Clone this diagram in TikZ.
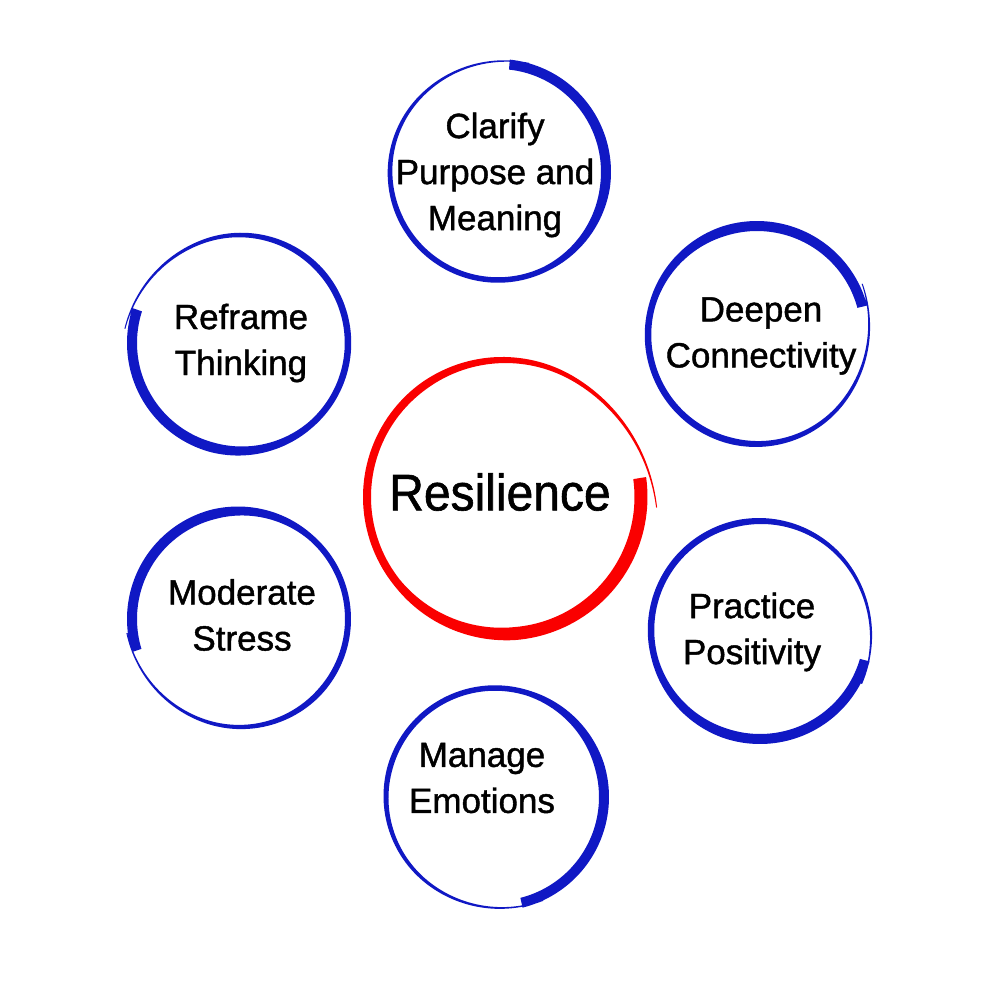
\documentclass[tikz,border=0pt]{standalone}
\usepackage{fontspec}
\setmainfont{Liberation Sans}
\newfontfamily\lblfont[FakeBold=1.2]{Liberation Sans}

\definecolor{ringblue}{RGB}{16,24,196}
\definecolor{ringred}{RGB}{250,0,0}

% brush ring: centre x, centre y, radius, start angle, sweep, start width, body width, tail drift, colour
\newcommand\brushring[9]{%
 \def\brushR{#3}\def\wbeg{#6}\def\wmid{#7}\def\dtail{#8}%
 \fill[#9] plot[domain=0:1,samples=180,variable=\t]
  ({#1+(rr(\t)+bw(\t)/2)*cos(#4+(#5)*\t)},{#2+(rr(\t)+bw(\t)/2)*sin(#4+(#5)*\t)})
  -- plot[domain=1:0,samples=180,variable=\t]
  ({#1+(rr(\t)-bw(\t)/2)*cos(#4+(#5)*\t)},{#2+(rr(\t)-bw(\t)/2)*sin(#4+(#5)*\t)}) -- cycle;
}

\tikzset{
 lbl/.style={font=\lblfont\fontsize{26.25}{34.5}\selectfont, align=center, inner sep=0.75pt},
 biglbl/.style={font=\lblfont\fontsize{36}{40}\selectfont, inner sep=0.75pt}
}

\begin{document}
\begin{tikzpicture}[x=0.75pt,y=0.75pt,yscale=-1,xscale=1,
 declare function={bw(\s)=\wmid+(\wbeg-\wmid)*min(max((0.4-\s)/0.15,0),1)+(1-\wmid)*max(\s-0.65,0)/0.35;
  rr(\s)=\brushR+\dtail*(max(\s-0.83,0)/0.17)*(max(\s-0.83,0)/0.17);}]
%set diagram 1000 x 1000
\fill[white] (0,0) rectangle (1000,1000);

%Shape: Red ring
\brushring{504}{497}{137}{-8}{372}{13}{8}{16}{ringred}
%Shape: Blue rings
\brushring{498}{172}{108}{-84}{370}{10}{5.5}{5}{ringblue}
\brushring{757}{335}{109}{-15}{-371}{10}{6.5}{8}{ringblue}
\brushring{760}{630}{109}{16}{372}{10}{6.5}{6}{ringblue}
\brushring{495}{797}{109}{76}{-371}{10}{5.5}{5}{ringblue}
\brushring{240}{619}{108}{163}{370}{10}{6}{6}{ringblue}
\brushring{240}{343}{108}{198}{-371}{10}{6.5}{8}{ringblue}

% Text Node
\node (resilience) [biglbl] at (500,492) {\scalebox{1}[1.07]{Resilience}};
% Text Node
\node (clarify) [lbl] at (495,175) {Clarify\\Purpose and\\Meaning};
% Text Node
\node (deepen) [lbl] at (761,336) {Deepen\\Connectivity};
% Text Node
\node (practice) [lbl] at (752,632) {Practice\\Positivity};
% Text Node
\node (manage) [lbl] at (482,778) {Manage\\Emotions};
% Text Node
\node (moderate) [lbl] at (242,615) {Moderate\\Stress};
% Text Node
\node (reframe) [lbl] at (241,343) {Reframe\\Thinking};

\end{tikzpicture}
\end{document}
